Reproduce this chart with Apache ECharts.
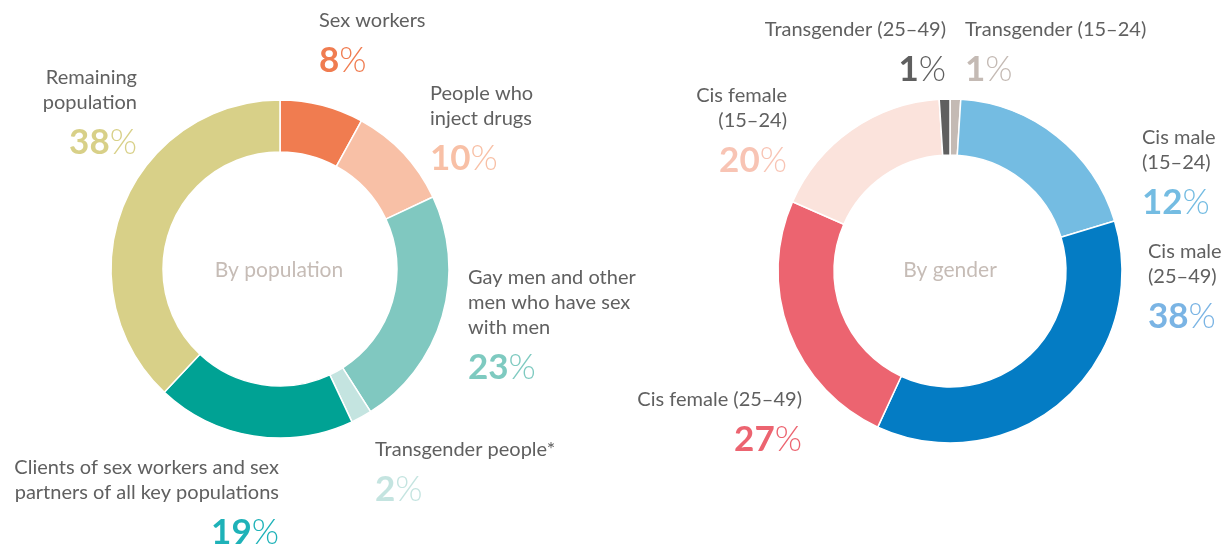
<!DOCTYPE html>
<html>
<head>
<meta charset="utf-8">
<script src="https://cdn.jsdelivr.net/npm/echarts@6/dist/echarts.min.js"></script>
<style>
  html, body { margin: 0; padding: 0; background: #fff; }
  #main { width: 1226px; height: 547px; }
</style>
</head>
<body>
<div id="main"></div>
<script>
// By population (clockwise from 12 o'clock)
const popNames = ['Sex workers', 'People who\ninject drugs', 'Gay men and other\nmen who have sex\nwith men',
  'Transgender people*', 'Clients of sex workers and sex\npartners of all key populations', 'Remaining\npopulation'];
const popValues = [8, 10, 23, 2, 19, 38];
const popColors = ['#f07c50', '#f8c0a6', '#80c8c0', '#c4e4e0', '#00a294', '#d8d088'];
const popTextColors = ['#f07c50', '#f8c0a6', '#7ecac0', '#c4e4e0', '#1eb2b8', '#d8d088'];

// By gender (clockwise from 12 o'clock); slice sizes, labels as printed
const genNames = ['Transgender (15–24)', 'Cis male\n(15–24)', 'Cis male\n(25–49)',
  'Cis female (25–49)', 'Cis female\n(15–24)', 'Transgender (25–49)'];
const genValues = [1, 19.3, 36.6, 24.7, 17.4, 1];
const genPrinted = [1, 12, 38, 27, 20, 1];
const genColors = ['#c4bab4', '#74bce2', '#047cc4', '#ec6470', '#fbe3dc', '#5f5f5f'];
const genTextColors = ['#c4bab4', '#74bce2', '#7ab4e4', '#ec6470', '#f8c4b4', '#5f5f5f'];

// label anchors: [x, y of first text line, align]
const popLabelPos = [[319, 21, 'left'], [430, 94, 'left'], [468, 278, 'left'],
  [375, 450, 'left'], [279, 468, 'right'], [137, 78, 'right']];
const genLabelPos = [[965, 30, 'left'], [1142, 138, 'left'], [1148, 252, 'left'],
  [802, 400, 'right'], [787, 96, 'right'], [946, 30, 'right']];

const FONT = 'Lato';

function makeItems(names, values, colors, textColors, printed, pos) {
  return names.map(function (n, i) {
    const al = pos[i][2];
    return {
      name: n,
      value: values[i],
      printed: printed ? printed[i] : values[i],
      itemStyle: { color: colors[i] },
      label: {
        rich: {
          t: { fontFamily: FONT, fontSize: 20, lineHeight: 25, color: '#606060', align: al },
          n: { fontFamily: FONT, fontSize: 35, fontWeight: 'bold', lineHeight: 54, color: textColors[i], align: al },
          p: { fontFamily: FONT, fontSize: 35, fontWeight: 300, lineHeight: 54, color: textColors[i], align: al }
        }
      }
    };
  });
}

function labelFmt(p) {
  const lines = p.name.split('\n').map(function (s) { return '{t|' + s + '}'; });
  return lines.join('\n') + '\n{n|' + p.data.printed + '}{p|%}';
}

function layoutFor(pos) {
  return function (params) {
    const q = pos[params.dataIndex];
    return { x: q[0], y: q[1] - 12.5, align: q[2], verticalAlign: 'top', hideOverlap: false };
  };
}

const myChart = echarts.init(document.getElementById('main'));
const option = {
  animation: false,
  graphic: [
    { type: 'text', x: 279, y: 270, style: { text: 'By population', fill: '#c6bcb6', font: '21px ' + FONT, textAlign: 'center', textVerticalAlign: 'middle' } },
    { type: 'text', x: 950, y: 270, style: { text: 'By gender', fill: '#c6bcb6', font: '21px ' + FONT, textAlign: 'center', textVerticalAlign: 'middle' } }
  ],
  series: [
    {
      name: 'By population',
      type: 'pie',
      center: [280, 269],
      radius: [117, 169],
      startAngle: 90,
      itemStyle: { borderColor: '#fff', borderWidth: 1.5 },
      label: { show: true, formatter: labelFmt, overflow: 'none', alignTo: 'none' },
      labelLine: { show: false },
      labelLayout: layoutFor(popLabelPos),
      data: makeItems(popNames, popValues, popColors, popTextColors, null, popLabelPos)
    },
    {
      name: 'By gender',
      type: 'pie',
      center: [950, 271],
      radius: [116, 172],
      startAngle: 90,
      itemStyle: { borderColor: '#fff', borderWidth: 1.5 },
      label: { show: true, formatter: labelFmt, overflow: 'none', alignTo: 'none' },
      labelLine: { show: false },
      labelLayout: layoutFor(genLabelPos),
      data: makeItems(genNames, genValues, genColors, genTextColors, genPrinted, genLabelPos)
    }
  ]
};
myChart.setOption(option);
</script>
</body>
</html>
